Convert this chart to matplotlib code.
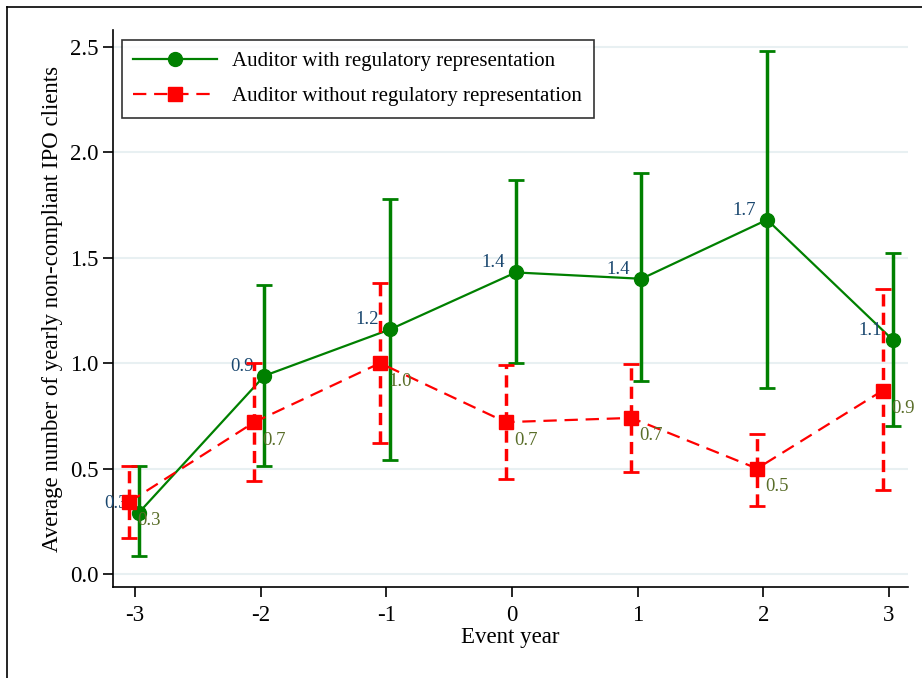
import matplotlib.pyplot as plt
from matplotlib.lines import Line2D

plt.rcParams['font.family'] = ['Liberation Serif', 'DejaVu Serif']

years = [-3, -2, -1, 0, 1, 2, 3]

# auditor with regulatory representation
with_mean = [0.29, 0.94, 1.16, 1.43, 1.40, 1.68, 1.11]
with_lo = [0.085, 0.51, 0.54, 1.00, 0.915, 0.88, 0.70]
with_hi = [0.51, 1.37, 1.78, 1.87, 1.90, 2.48, 1.52]

# auditor without regulatory representation
without_mean = [0.34, 0.72, 1.00, 0.72, 0.74, 0.50, 0.87]
without_lo = [0.17, 0.44, 0.62, 0.45, 0.485, 0.32, 0.40]
without_hi = [0.51, 1.00, 1.38, 0.99, 0.995, 0.665, 1.35]

GREEN = '#008000'
RED = '#ff0000'
NAVY = '#1a476f'
OLIVE = '#5a6e2a'

fig = plt.figure(figsize=(9.22, 6.78), dpi=100)
ax = fig.add_axes([113 / 922, 1 - 587 / 678, 795 / 922, 557 / 678])

xg = [x + 0.03 for x in years]
xr = [x - 0.05 for x in years]

# green series
err_g = [[m - l for m, l in zip(with_mean, with_lo)],
         [h - m for m, h in zip(with_mean, with_hi)]]
ax.errorbar(xg, with_mean, yerr=err_g, fmt='none', ecolor=GREEN,
            elinewidth=2.5, capsize=6, capthick=2, zorder=2)
ax.plot(xg, with_mean, color=GREEN, lw=1.6, marker='o', markersize=10,
        label='Auditor with regulatory representation', zorder=2.5)
for x, y in zip(xg, with_mean):
    ax.annotate(f'{y:.1f}', (x, y), xytext=(-8, 7), textcoords='offset points',
                ha='right', va='center', color=NAVY, fontsize=13.5, zorder=3)

# red series
err_r = [[m - l for m, l in zip(without_mean, without_lo)],
         [h - m for m, h in zip(without_mean, without_hi)]]
eb = ax.errorbar(xr, without_mean, yerr=err_r, fmt='none', ecolor=RED,
                 elinewidth=2.5, capsize=6, capthick=2, zorder=4)
eb[2][0].set_linestyle((0, (3.5, 1.8)))
ax.plot(xr, without_mean, color=RED, lw=1.6, ls=(0, (6, 3.5)), marker='s',
        markersize=10, label='Auditor without regulatory representation', zorder=4.5)
for x, y in zip(xr, without_mean):
    ax.annotate(f'{y:.1f}', (x, y), xytext=(6, -13), textcoords='offset points',
                ha='left', va='center', color=OLIVE, fontsize=13.5, zorder=5)

ax.set_xlim(-3.175, 3.151)
ax.set_ylim(-0.062, 2.58)
ax.set_xticks(years)
ax.set_xticklabels(['-3', '-2', '-1', '0', '1', '2', '3'])
ax.set_yticks([0, 0.5, 1.0, 1.5, 2.0, 2.5])
ax.set_yticklabels(['0.0', '0.5', '1.0', '1.5', '2.0', '2.5'])
ax.tick_params(axis='both', labelsize=16.5, direction='out', length=7, width=1.2)
ax.tick_params(axis='x', pad=6)
ax.grid(axis='y', color='#e8f0f2', lw=1.5)
ax.set_axisbelow(True)
for s in ['top', 'right']:
    ax.spines[s].set_visible(False)
for s in ['left', 'bottom']:
    ax.spines[s].set_linewidth(1.2)

ax.set_xlabel('Event year', fontsize=16.5, labelpad=1)
ax.set_ylabel('Average number of yearly non-compliant IPO clients', fontsize=16.5, labelpad=5)

leg = ax.legend(loc='upper left', bbox_to_anchor=(9 / 795, 1 - 10 / 557), fontsize=15,
                frameon=True, fancybox=False, edgecolor='black', handlelength=4.0,
                handletextpad=0.75, borderpad=0.55, labelspacing=0.75, borderaxespad=0)
leg.get_frame().set_linewidth(1.2)

# outer frame
fig.add_artist(Line2D([7 / 922, 7 / 922], [0, 1 - 7 / 678], color='black', lw=1.2))
fig.add_artist(Line2D([7 / 922, 1], [1 - 7 / 678, 1 - 7 / 678], color='black', lw=1.2))

fig.savefig('out.png', dpi=100)
